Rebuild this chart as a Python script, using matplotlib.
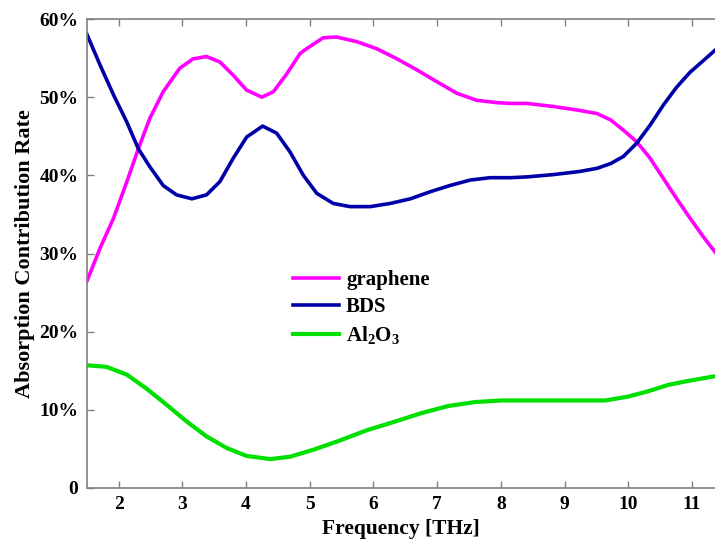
import numpy as np
import matplotlib
matplotlib.use('Agg')
import matplotlib.pyplot as plt
from matplotlib.ticker import FuncFormatter

# Valores (frecuencia en THz, tasa en %)
f_gr = [1.50, 1.71, 1.92, 2.13, 2.31, 2.49, 2.70, 2.96, 3.17, 3.38, 3.59, 3.80,
        4.01, 4.25, 4.43, 4.64, 4.85, 4.95, 5.21, 5.42, 5.74, 6.05, 6.37, 6.68,
        6.99, 7.31, 7.62, 7.94, 8.15, 8.41, 8.83, 9.24, 9.51, 9.72, 9.92, 10.13,
        10.34, 10.55, 10.76, 10.97, 11.18, 11.36]
r_gr = [26.4, 30.7, 34.5, 39.2, 43.4, 47.3, 50.7, 53.7, 54.9, 55.2, 54.5, 52.8,
        50.9, 50.0, 50.7, 53.0, 55.6, 56.2, 57.6, 57.7, 57.1, 56.2, 54.9, 53.5,
        52.0, 50.5, 49.6, 49.3, 49.2, 49.2, 48.8, 48.3, 47.9, 47.1, 45.8, 44.3,
        42.2, 39.6, 37.0, 34.5, 32.1, 30.2]

f_bds = [1.50, 1.71, 1.92, 2.13, 2.31, 2.49, 2.70, 2.91, 3.15, 3.38, 3.59, 3.80,
         4.01, 4.26, 4.48, 4.69, 4.90, 5.11, 5.37, 5.63, 5.95, 6.26, 6.58, 6.89,
         7.20, 7.52, 7.83, 8.15, 8.41, 8.83, 9.24, 9.51, 9.72, 9.92, 10.13, 10.34,
         10.55, 10.76, 10.97, 11.18, 11.36]
r_bds = [58.1, 54.1, 50.3, 46.8, 43.4, 41.1, 38.7, 37.5, 37.0, 37.5, 39.2, 42.2,
         44.9, 46.3, 45.4, 43.0, 40.0, 37.7, 36.4, 36.0, 36.0, 36.4, 37.0, 37.9,
         38.7, 39.4, 39.7, 39.7, 39.8, 40.1, 40.5, 40.9, 41.5, 42.4, 44.1, 46.4,
         49.0, 51.3, 53.2, 54.7, 56.0]

f_al = [1.50, 1.81, 2.13, 2.44, 2.76, 3.07, 3.38, 3.70, 4.01, 4.38, 4.69, 5.06,
        5.48, 5.90, 6.34, 6.76, 7.18, 7.60, 8.01, 8.43, 8.85, 9.27, 9.64, 10.00,
        10.32, 10.63, 10.94, 11.36]
r_al = [15.7, 15.5, 14.5, 12.7, 10.6, 8.5, 6.6, 5.1, 4.1, 3.7, 4.0, 4.9,
        6.1, 7.4, 8.5, 9.6, 10.5, 11.0, 11.2, 11.2, 11.2, 11.2, 11.2, 11.7,
        12.4, 13.2, 13.7, 14.3]

x_ticks = [2, 3, 4, 5, 6, 7, 8, 9, 10, 11]
y_ticks = [0, 10, 20, 30, 40, 50, 60]

plt.rcParams['font.family'] = ['Liberation Serif', 'DejaVu Serif']
plt.rcParams['font.weight'] = 'bold'
plt.rcParams['mathtext.fontset'] = 'custom'
plt.rcParams['mathtext.rm'] = 'Liberation Serif:bold'
plt.rcParams['mathtext.it'] = 'Liberation Serif:bold'
plt.rcParams['mathtext.bf'] = 'Liberation Serif:bold'
plt.rcParams['mathtext.default'] = 'rm'

fig = plt.figure(figsize=(7.15, 5.48), dpi=100)
ax = fig.add_axes([0.1213, 0.1095, 0.8787, 0.8558])

ax.plot(f_gr, r_gr, color='#FF00FF', lw=2.6, solid_joinstyle='round', label='graphene')
ax.plot(f_bds, r_bds, color='#0000A8', lw=2.6, solid_joinstyle='round', label='BDS')
ax.plot(f_al, r_al, color='#00E000', lw=3.0, solid_joinstyle='round', label='Al$_2$O$_3$')

ax.set_xlim(1.5, 11.36)
ax.set_ylim(0, 60)
ax.set_xticks(x_ticks)
ax.set_yticks(y_ticks)
ax.yaxis.set_major_formatter(FuncFormatter(lambda v, p: '0' if v == 0 else f'{int(v)}%'))

ax.tick_params(direction='in', top=True, right=False, length=5, width=1,
               color='#808080', labelsize=14, pad=6)
for lab in ax.get_xticklabels() + ax.get_yticklabels():
    lab.set_fontweight('bold')
for s in ['left', 'top', 'bottom']:
    ax.spines[s].set_color('#808080')
    ax.spines[s].set_linewidth(1.2)
ax.spines['right'].set_visible(False)

ax.set_xlabel('Frequency [THz]', fontsize=15.5, fontweight='bold', labelpad=4)
ax.set_ylabel('Absorption Contribution Rate', fontsize=16, fontweight='bold', labelpad=3)

leg = ax.legend(loc='upper left', bbox_to_anchor=(0.315, 0.483), frameon=False,
                fontsize=15, handlelength=2.2, handletextpad=0.35, labelspacing=0.35,
                borderaxespad=0)
for t in leg.get_texts():
    t.set_fontweight('bold')

fig.savefig('out.png', dpi=100)
